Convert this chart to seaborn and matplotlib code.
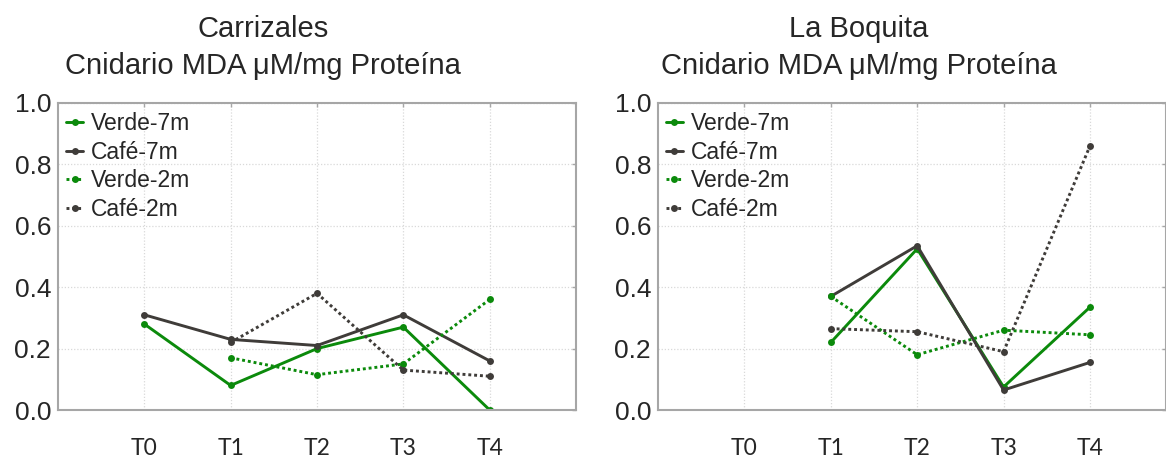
import numpy as np
import pandas as pd
import matplotlib
matplotlib.use("Agg")
import matplotlib.pyplot as plt
import seaborn as sns

# ---- data ----
tiempos = ["T0", "T1", "T2", "T3", "T4"]
series = ["Verde-7m", "Café-7m", "Verde-2m", "Café-2m"]

carrizales_verde_7m = [0.28, 0.08, 0.20, 0.27, 0.00]
carrizales_cafe_7m = [0.31, 0.23, 0.21, 0.31, 0.16]
carrizales_verde_2m = [np.nan, 0.17, 0.115, 0.15, 0.36]
carrizales_cafe_2m = [np.nan, 0.22, 0.38, 0.13, 0.11]

boquita_verde_7m = [np.nan, 0.22, 0.525, 0.075, 0.335]
boquita_cafe_7m = [np.nan, 0.37, 0.535, 0.065, 0.155]
boquita_verde_2m = [np.nan, 0.37, 0.18, 0.26, 0.245]
boquita_cafe_2m = [np.nan, 0.265, 0.255, 0.19, 0.86]

sitios = ["Carrizales", "La Boquita"]
subtitulo = "Cnidario MDA μM/mg Proteína"
y_ticks = [0.0, 0.2, 0.4, 0.6, 0.8, 1.0]

GREEN = "#0b8a0b"
DARK = "#3f3c39"
palette = {"Verde-7m": GREEN, "Café-7m": DARK, "Verde-2m": GREEN, "Café-2m": DARK}
dashes = {"Verde-7m": "", "Café-7m": "", "Verde-2m": (1, 1), "Café-2m": (1, 1)}
markers = {s: "o" for s in series}


def make_df(vals):
    rows = []
    for s, v in zip(series, vals):
        for i, t in enumerate(tiempos):
            rows.append({"pos": i, "tiempo": t, "valor": v[i], "serie": s})
    return pd.DataFrame(rows)


df_c = make_df([carrizales_verde_7m, carrizales_cafe_7m, carrizales_verde_2m, carrizales_cafe_2m])
df_b = make_df([boquita_verde_7m, boquita_cafe_7m, boquita_verde_2m, boquita_cafe_2m])

sns.set_style("white")
plt.rcParams["font.family"] = ["Liberation Sans", "DejaVu Sans"]

fig = plt.figure(figsize=(11.66, 4.57), dpi=100)
W, H = 1166, 457
ax1 = fig.add_axes([58 / W, 1 - 410 / H, (576 - 58) / W, (410 - 103) / H])
ax2 = fig.add_axes([658 / W, 1 - 410 / H, (1166 - 658) / W, (410 - 103) / H])

spine_c = "#a6a6a6"
for ax, df, xmax, sitio, tx in [(ax1, df_c, 5.0, sitios[0], 263),
                                (ax2, df_b, 4.88, sitios[1], 859)]:
    sns.lineplot(data=df.dropna(), x="pos", y="valor", hue="serie", style="serie",
                 hue_order=series, style_order=series, palette=palette,
                 dashes=dashes, markers=markers, markersize=5,
                 markeredgewidth=0, linewidth=2.1, ax=ax, sort=True,
                 errorbar=None, estimator=None)
    ax.set_xlim(-1, xmax)
    ax.set_ylim(0, 1.0)
    ax.set_xticks(range(len(tiempos)))
    ax.set_xticklabels(tiempos, family=["Lato", "DejaVu Sans"], fontsize=16.5)
    ax.set_yticks(y_ticks)
    ax.set_yticklabels([f"{v:.1f}" for v in y_ticks], fontsize=19)
    ax.set_xlabel("")
    ax.set_ylabel("")
    ax.grid(True, color="#d9d9d9", linestyle=(0, (1, 1.5)), linewidth=0.9)
    ax.set_axisbelow(True)
    for sp in ax.spines.values():
        sp.set_color(spine_c)
        sp.set_linewidth(1.5)
        sp.set_visible(True)
    ax.tick_params(axis="both", direction="in", length=3, width=1, color=spine_c,
                   top=True, right=True, left=False)
    ax.tick_params(axis="x", pad=20)
    ax.tick_params(axis="y", pad=5)
    handles, labels = ax.get_legend_handles_labels()
    ax.legend(handles=handles, labels=labels, loc="upper left", frameon=False,
              fontsize=16.5, handlelength=0.75, handletextpad=0.35, labelspacing=0.25,
              borderaxespad=0.0, borderpad=0.0,
              bbox_to_anchor=(8 / ((576 - 58)), 1 - 9 / 307))
    fig.text(tx / W, 1 - 37 / H, sitio, ha="center", va="baseline", fontsize=21)
    fig.text(tx / W, 1 - 74 / H, subtitulo, ha="center", va="baseline", fontsize=21)

fig.savefig("out.png", dpi=100)
